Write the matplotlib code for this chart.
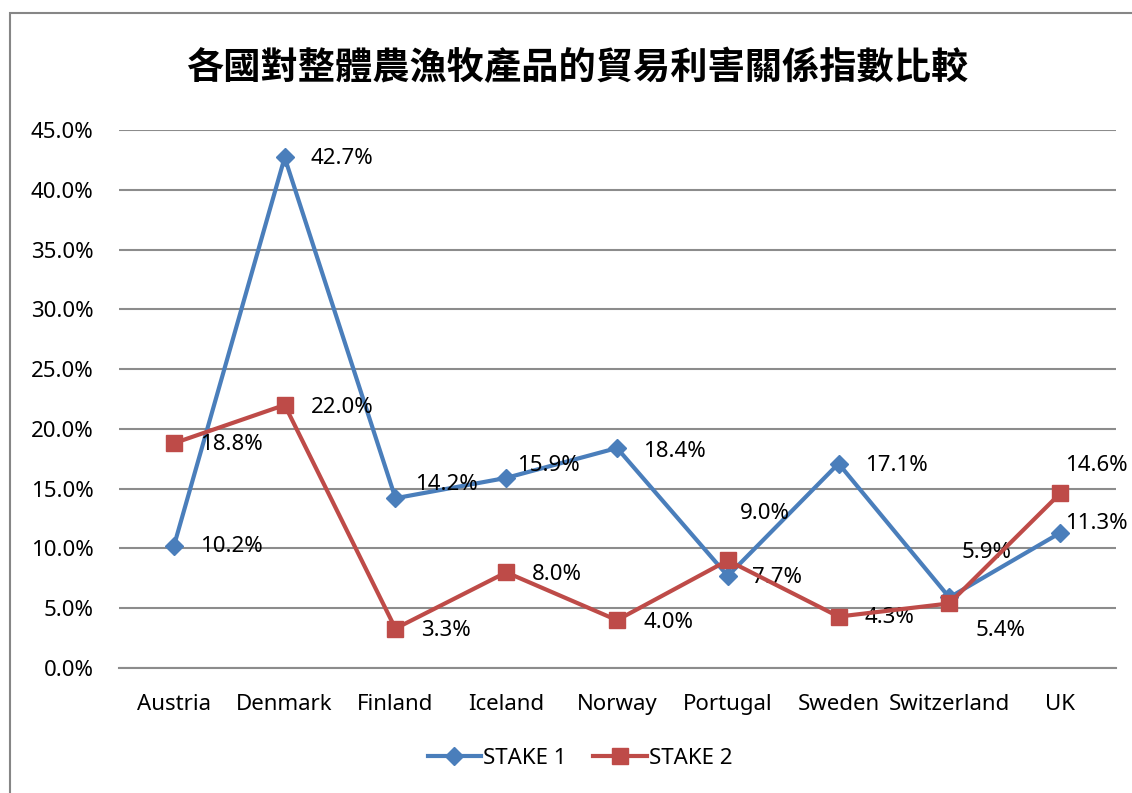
import matplotlib
matplotlib.use("Agg")
import matplotlib.pyplot as plt
from matplotlib.patches import Rectangle

# ---------------------------------------------------------
# Data
# ---------------------------------------------------------

countries = ["Austria", "Denmark", "Finland", "Iceland", "Norway",
             "Portugal", "Sweden", "Switzerland", "UK"]
stake1 = [10.2, 42.7, 14.2, 15.9, 18.4, 7.7, 17.1, 5.9, 11.3]
stake2 = [18.8, 22.0, 3.3, 8.0, 4.0, 9.0, 4.3, 5.4, 14.6]
yticks = [0, 5, 10, 15, 20, 25, 30, 35, 40, 45]
title = "各國對整體農漁牧產品的貿易利害關係指數比較"

# label offsets in pixels (dx right, dy up), as placed in the original
off1 = [(26, 0), (26, -1), (20, 14), (11, 12), (26, -3),
        (24, -2), (26, -2), (12, 45), (5, 9)]
off2 = [(26, -1), (26, -3), (26, -2), (26, -2), (26, -2),
        (12, 47), (26, -1), (26, -27), (5, 28)]

BLUE = "#4A7EBB"
RED = "#BE4B48"
GRID = "#8C8C8C"
FONT = ["Noto Sans", "DejaVu Sans"]

plt.rcParams["font.family"] = FONT

W, H = 1132, 793
fig = plt.figure(figsize=(W / 100, H / 100), dpi=100)
ax = fig.add_axes([118.5 / W, 1 - 668 / H, 997 / W, 538 / H])

x = list(range(len(countries)))

ax.plot(x, stake1, color=BLUE, lw=3, marker="D", ms=9,
        mfc=BLUE, mec=BLUE, label="STAKE 1", zorder=3)
ax.plot(x, stake2, color=RED, lw=3, marker="s", ms=12,
        mfc=RED, mec=RED, label="STAKE 2", zorder=4)

for i in x:
    dx, dy = off1[i]
    ax.annotate(f"{stake1[i]:.1f}%", (i, stake1[i]),
                xytext=(dx * 0.72, dy * 0.72), textcoords="offset points",
                ha="left", va="center", fontsize=16, annotation_clip=False)
    dx, dy = off2[i]
    ax.annotate(f"{stake2[i]:.1f}%", (i, stake2[i]),
                xytext=(dx * 0.72, dy * 0.72), textcoords="offset points",
                ha="left", va="center", fontsize=16, annotation_clip=False)

ax.set_xlim(-0.5, len(countries) - 0.5)
ax.set_ylim(0, 45)
ax.set_yticks(yticks)
ax.set_yticklabels([f"{v:.1f}%" for v in yticks])
ax.set_xticks(x)
ax.set_xticklabels(countries)
ax.tick_params(axis="y", length=0, pad=18, labelsize=16)
ax.tick_params(axis="x", length=0, pad=19, labelsize=16)

ax.grid(axis="y", color=GRID, lw=1.5)
ax.set_axisbelow(True)
for s in ["left", "right", "top"]:
    ax.spines[s].set_visible(False)
ax.spines["bottom"].set_color(GRID)
ax.spines["bottom"].set_linewidth(1.5)

fig.text(577 / W, 1 - 69 / H, title, ha="center", va="center",
         fontsize=26.8, fontweight="bold",
         family=["Noto Sans CJK TC", "DejaVu Sans"])

fig.legend(loc="center", bbox_to_anchor=(580 / W, 1 - 758 / H), ncol=2,
           frameon=False, fontsize=16, handlelength=2.4,
           handletextpad=0.1, columnspacing=1.2)

fig.patches.append(Rectangle((10 / W, -0.1), 1.2, 1 - 13 / H + 0.1,
                             transform=fig.transFigure, fill=False,
                             edgecolor="#868686", lw=1.5))

fig.savefig("out.png", dpi=100)
